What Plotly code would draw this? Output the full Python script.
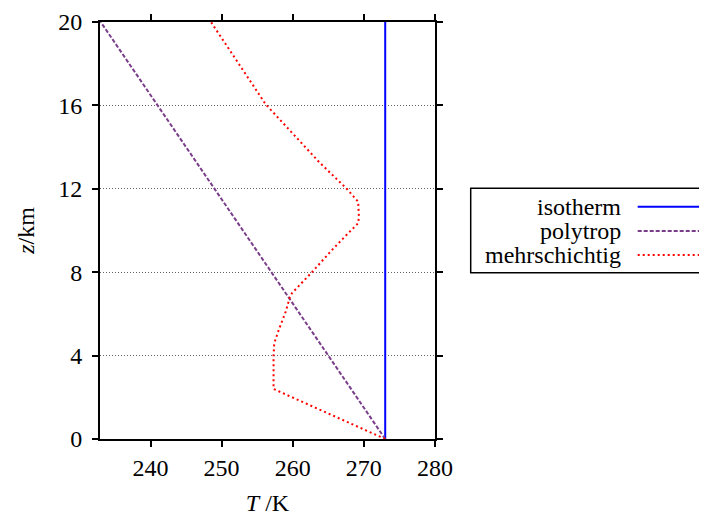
import plotly.graph_objects as go

# Data
z_iso = [0, 20]
T_iso = [273, 273]

z_poly = [0, 20]
T_poly = [273, 233]

z_multi = [0, 2.4, 4.0, 4.6, 5.2, 6.1, 6.8, 7.0, 8.0, 9.06, 9.87, 10.35, 10.66, 11.14, 11.38, 12.0, 13.25, 16.05, 20.0]
T_multi = [273, 257.3, 257.3, 257.4, 258.0, 259.0, 259.6, 259.9, 262.7, 265.5, 267.8, 269.2, 269.3, 269.3, 269.2, 267.6, 263.8, 256.2, 248.5]

x_ticks = [240, 250, 260, 270, 280]
y_ticks = [0, 4, 8, 12, 16, 20]

names = ["isotherm", "polytrop", "mehrschichtig"]
colors = ["#0000ff", "#7a3d8a", "#ff0000"]

FONT = "Liberation Serif, DejaVu Serif, serif"
FS = 24

# page body has an 8px margin; plot area target in window: x 100..435, y 22..439
fig = go.Figure()
fig.add_trace(go.Scatter(x=T_iso, y=z_iso, mode="lines", name=names[0],
                         line=dict(color=colors[0], width=2, dash="solid")))
fig.add_trace(go.Scatter(x=T_poly, y=z_poly, mode="lines", name=names[1],
                         line=dict(color=colors[1], width=2, dash="4px,2px")))
fig.add_trace(go.Scatter(x=T_multi, y=z_multi, mode="lines", name=names[2],
                         line=dict(color=colors[2], width=2, dash="2px,3px")))

fig.update_layout(
    width=699, height=508,
    margin=dict(l=92, r=272, t=14, b=77, autoexpand=False),
    paper_bgcolor="white", plot_bgcolor="white",
    showlegend=False,
    font=dict(family=FONT, size=FS, color="black"),
    xaxis=dict(range=[232.9, 280], tickvals=x_ticks, ticks="outside", ticklen=6, tickwidth=2,
               tickcolor="black", showline=True, linewidth=2, linecolor="black", mirror="ticks",
               showgrid=False, zeroline=False, automargin=False, ticklabelstandoff=0,
               tickfont=dict(family=FONT, size=FS),
               title=dict(text="<i>T</i> /K", standoff=16, font=dict(family=FONT, size=FS))),
    yaxis=dict(range=[0, 20], tickvals=y_ticks, ticks="outside", ticklen=6, tickwidth=2,
               tickcolor="black", showline=True, linewidth=2, linecolor="black", mirror="ticks",
               showgrid=True, gridcolor="#666666", griddash="1px,2px", gridwidth=1, zeroline=False,
               automargin=False, ticklabelstandoff=5,
               tickfont=dict(family=FONT, size=FS),
               title=dict(text="<i>z</i>/km", standoff=17, font=dict(family=FONT, size=FS))),
)

# Custom legend (gnuplot-style: text right-aligned, sample to the right)
PW, PH = 335, 417
x0, x1 = (470.7 - 100) / PW, (705 - 100) / PW
y0, y1 = (439 - 272.7) / PH, (439 - 188.3) / PH
fig.add_shape(type="rect", xref="paper", yref="paper", x0=x0, x1=x1, y0=y0, y1=y1,
              line=dict(color="black", width=1.5), fillcolor="white", layer="above")
row_y = [(439 - 206.7) / PH, (439 - 231) / PH, (439 - 255) / PH]
sx0, sx1 = (637.7 - 100) / PW, (701.7 - 100) / PW
tx = (623 - 100) / PW
legend_dash = ["solid", "4px,2px", "2px,3px"]
for nm, c, d, yy in zip(names, colors, legend_dash, row_y):
    fig.add_shape(type="line", xref="paper", yref="paper", x0=sx0, x1=sx1, y0=yy, y1=yy,
                  line=dict(color=c, width=2, dash=d), layer="above")
    fig.add_annotation(text=nm, xref="paper", yref="paper", x=tx, y=yy, xanchor="right",
                       yanchor="middle", showarrow=False, font=dict(family=FONT, size=FS, color="black"))

fig.write_html("out.html")
